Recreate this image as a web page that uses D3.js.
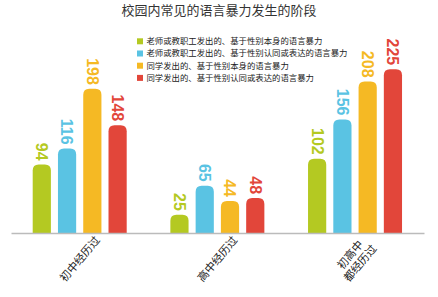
<!DOCTYPE html>
<html>
<head>
<meta charset="utf-8">
<script src="https://cdn.jsdelivr.net/npm/d3@7"></script>
<style>
  body { margin: 0; background: #fff; }
  text { font-family: "Noto Sans CJK SC", "Noto Sans", sans-serif; }
</style>
</head>
<body>
<div class="graphContainer"></div>
<script>
var categories = ["初中经历过", "高中经历过", "初高中\n都经历过"];
var seriesNames = [
  "老师或教职工发出的、基于性别本身的语言暴力",
  "老师或教职工发出的、基于性别认同或表达的语言暴力",
  "同学发出的、基于性别本身的语言暴力",
  "同学发出的、基于性别认同或表达的语言暴力"
];
var teacherSex    = [94, 25, 102];
var teacherGender = [116, 65, 156];
var peerSex       = [198, 44, 208];
var peerGender    = [148, 48, 225];
var colors = ["#b4c922", "#5ac3e3", "#f5b924", "#e2463a"];

var values = [teacherSex, teacherGender, peerSex, peerGender];

var w = 438, h = 297;

var svg = d3.select(".graphContainer")
  .append("svg")
  .attr("width", w)
  .attr("height", h);

var x0 = d3.scaleBand()
  .domain(d3.range(categories.length))
  .range([11, 424]);

var x1 = d3.scaleBand()
  .domain(d3.range(seriesNames.length))
  .range([21.7, 115.7])
  .paddingInner(0.28);

var y = d3.scaleLinear()
  .domain([0, 250])
  .range([233, 51]);

// title
svg.append("text")
  .attr("x", 219)
  .attr("y", 15)
  .attr("text-anchor", "middle")
  .style("font-size", "13px")
  .style("fill", "#333")
  .text("校园内常见的语言暴力发生的阶段");

// bars with rounded tops
function barPath(x, top, bw, bottom) {
  var r = Math.min(6, bw / 2, (bottom - top));
  return "M" + x + "," + bottom +
    "V" + (top + r) +
    "Q" + x + "," + top + " " + (x + r) + "," + top +
    "H" + (x + bw - r) +
    "Q" + (x + bw) + "," + top + " " + (x + bw) + "," + (top + r) +
    "V" + bottom + "Z";
}

var cells = [];
values.forEach(function (arr, s) {
  arr.forEach(function (v, c) {
    cells.push({ s: s, c: c, v: v });
  });
});

svg.selectAll("path.bar")
  .data(cells)
  .enter()
  .append("path")
    .attr("class", "bar")
    .attr("fill", function (d) { return colors[d.s]; })
    .attr("d", function (d) {
      return barPath(x0(d.c) + x1(d.s), y(d.v), x1.bandwidth(), y(0));
    });

// value labels, rotated
svg.selectAll("text.val")
  .data(cells)
  .enter()
  .append("text")
    .attr("class", "val")
    .attr("transform", function (d) {
      var cx = x0(d.c) + x1(d.s) + x1.bandwidth() / 2;
      return "translate(" + cx + "," + (y(d.v) - 4) + ") rotate(90)";
    })
    .attr("text-anchor", "end")
    .attr("dy", "0.35em")
    .style("font-family", "'Liberation Sans', Arial, sans-serif")
    .style("font-weight", "bold")
    .style("font-size", "16px")
    .style("fill", function (d) { return colors[d.s]; })
    .text(function (d) { return d.v; });

// x axis
var axis = svg.append("g")
  .attr("transform", "translate(0," + y(0) + ")")
  .call(d3.axisBottom(x0).tickSize(0).tickFormat(""));
axis.select(".domain")
  .attr("stroke", "#bbb")
  .attr("stroke-width", 1.5);

// category labels
var catLabels = svg.selectAll("text.cat")
  .data(categories)
  .enter()
  .append("text")
    .attr("class", "cat")
    .attr("transform", function (d, i) {
      return "translate(" + (x0(i) + x0.bandwidth() / 2) + ",259) rotate(-50)";
    })
    .attr("text-anchor", "middle")
    .style("font-size", "11px")
    .style("fill", "#222");

catLabels.each(function (d) {
  var lines = d.split("\n");
  var t = d3.select(this);
  lines.forEach(function (line, k) {
    t.append("tspan")
      .attr("x", 0)
      .attr("y", (k - (lines.length - 1) / 2) * 13)
      .attr("dy", "0.35em")
      .text(line);
  });
});

// legend
var legend = svg.selectAll("g.legend")
  .data(seriesNames)
  .enter()
  .append("g")
    .attr("class", "legend")
    .attr("transform", function (d, i) {
      return "translate(137," + (41.3 + i * 12.2) + ")";
    });

legend.append("rect")
  .attr("x", 0)
  .attr("y", -3)
  .attr("width", 6)
  .attr("height", 6)
  .attr("fill", function (d, i) { return colors[i]; });

legend.append("text")
  .attr("x", 9.5)
  .attr("dy", "0.35em")
  .style("font-size", "8.4px")
  .style("fill", "#222")
  .text(function (d) { return d; });
</script>
</body>
</html>
